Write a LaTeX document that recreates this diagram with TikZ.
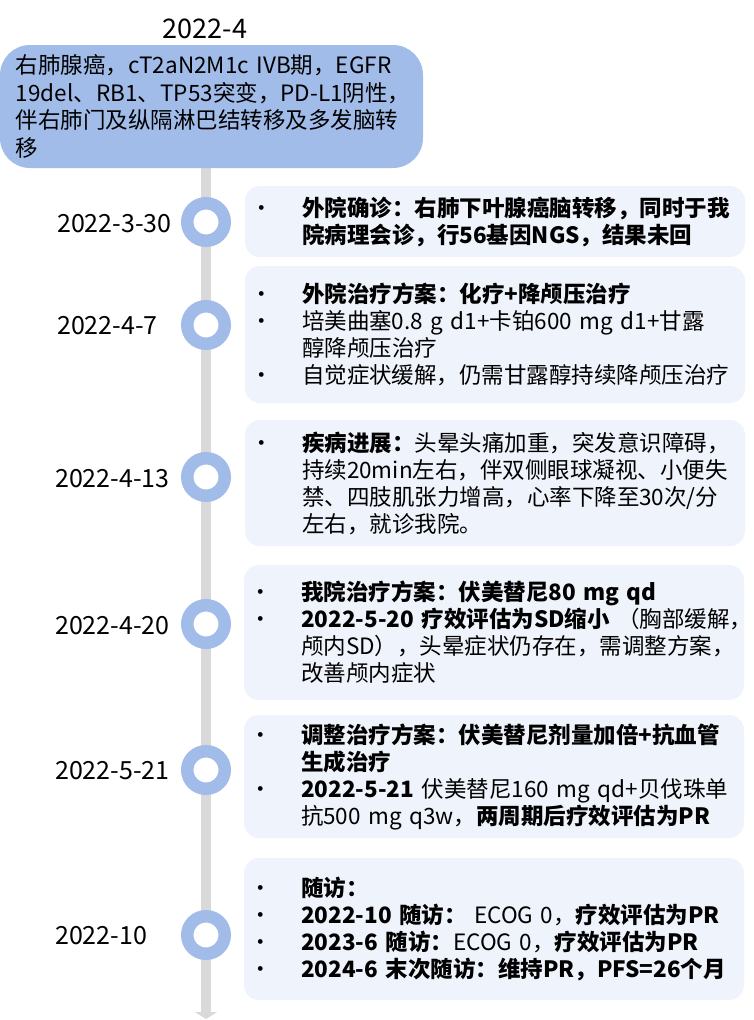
\documentclass[tikz,border=0pt]{standalone}
\usepackage{fontspec}
\setmainfont{Noto Sans CJK SC}
\usetikzlibrary{arrows.meta, backgrounds}
\definecolor{ringblue}{RGB}{162,188,233}
\definecolor{panelblue}{RGB}{239,243,251}
\definecolor{spinegray}{RGB}{217,217,217}
\newcommand{\itm}[1]{\makebox[44pt][l]{\hspace{-8pt}•}\mbox{#1}}
\newcommand{\gap}[1]{\hspace*{44pt}\mbox{#1}}

\begin{document}
\begin{tikzpicture}[x=1pt, y=-1pt,
    title/.style = {inner sep=0pt, font=\fontsize{27}{32}\selectfont},
    date/.style = {anchor=west, inner sep=0pt, font=\fontsize{25}{29}\selectfont},
    ring/.style = {circle, draw=ringblue, line width=12.5pt, fill=white, minimum size=37.5pt, inner sep=0pt},
    summary/.style = {rectangle, fill=ringblue, rounded corners=30pt, minimum width=423pt, minimum height=123pt, align=left, text width=391pt, inner xsep=16pt, font=\fontsize{22.5}{27.5}\selectfont},
    event/.style = {rectangle, fill=panelblue, rounded corners=15pt, minimum width=500pt, align=left, text width=474pt, inner xsep=13pt, font=\fontsize{22.5}{27}\selectfont},
    spine/.style = {draw=spinegray, line width=10pt, -{Triangle[width=22pt, length=7pt]}}
]
\useasboundingbox (0,0) rectangle (754,1020);

% Header
\node (year) [title] at (205, 29) {2022-4};
\node (summary) [summary] at (211.5, 106.5) {\mbox{右肺腺癌，cT2aN2M1c IVB期，EGFR}\\\mbox{19del、RB1、TP53突变，PD-L1阴性，}\\\mbox{伴右肺门及纵隔淋巴结转移及多发脑转}\\移};

% Rings
\node (ring1) [ring] at (206, 222) {};
\node (ring2) [ring] at (206, 325) {};
\node (ring3) [ring] at (206, 477) {};
\node (ring4) [ring] at (206, 624) {};
\node (ring5) [ring] at (206, 770) {};
\node (ring6) [ring] at (206, 935) {};

% Dates
\node (date1) [date] at (57, 224) {2022-3-30};
\node (date2) [date] at (57, 326) {2022-4-7};
\node (date3) [date] at (55, 479) {2022-4-13};
\node (date4) [date] at (55, 626) {2022-4-20};
\node (date5) [date] at (55, 771) {2022-5-21};
\node (date6) [date] at (55, 936) {2022-10};

% Events
\node (ev1) [event, minimum height=71pt] at (495, 221.5) {\itm{\textbf{外院确诊：右肺下叶腺癌脑转移，同时于我}}\\
\gap{\textbf{院病理会诊，行56基因NGS，结果未回}}};
\node (ev2) [event, minimum height=137pt] at (495, 334.5) {\itm{\textbf{外院治疗方案：化疗+降颅压治疗}}\\
\itm{培美曲塞0.8 g d1+卡铂600 mg d1+甘露}\\
\gap{醇降颅压治疗}\\
\itm{自觉症状缓解，仍需甘露醇持续降颅压治疗}};
\node (ev3) [event, minimum height=126pt] at (495, 483) {\itm{\textbf{疾病进展：}头晕头痛加重，突发意识障碍，}\\
\gap{持续20min左右，伴双侧眼球凝视、小便失}\\
\gap{禁、四肢肌张力增高，心率下降至30次/分}\\
\gap{左右，就诊我院。}};
\node (ev4) [event, minimum height=135pt] at (494, 632.5) {\itm{\textbf{我院治疗方案：伏美替尼80 mg qd}}\\
\itm{\textbf{2022-5-20 疗效评估为SD缩小} （胸部缓解，}\\
\gap{颅内SD），头晕症状仍存在，需调整方案，}\\
\gap{改善颅内症状}};
\node (ev5) [event, minimum height=123pt] at (494, 776.5) {\itm{\textbf{调整治疗方案：伏美替尼剂量加倍+抗血管}}\\
\gap{\textbf{生成治疗}}\\
\itm{\textbf{2022-5-21} 伏美替尼160 mg qd+贝伐珠单}\\
\gap{抗500 mg q3w，\textbf{两周期后疗效评估为PR}}};
\node (ev6) [event, minimum height=142pt] at (494, 929) {\itm{\textbf{随访：}}\\
\itm{\textbf{2022-10 随访：} ECOG 0，\textbf{疗效评估为PR}}\\
\itm{\textbf{2023-6 随访：}ECOG 0，\textbf{疗效评估为PR}}\\
\itm{\textbf{2024-6 末次随访：维持PR，PFS=26个月}}};

% Timeline
\coordinate (tail) at (206, 1019);
\begin{scope}[on background layer]
\draw [spine] (summary.south -| ring1.center) -- (tail);
\end{scope}

\end{tikzpicture}
\end{document}
